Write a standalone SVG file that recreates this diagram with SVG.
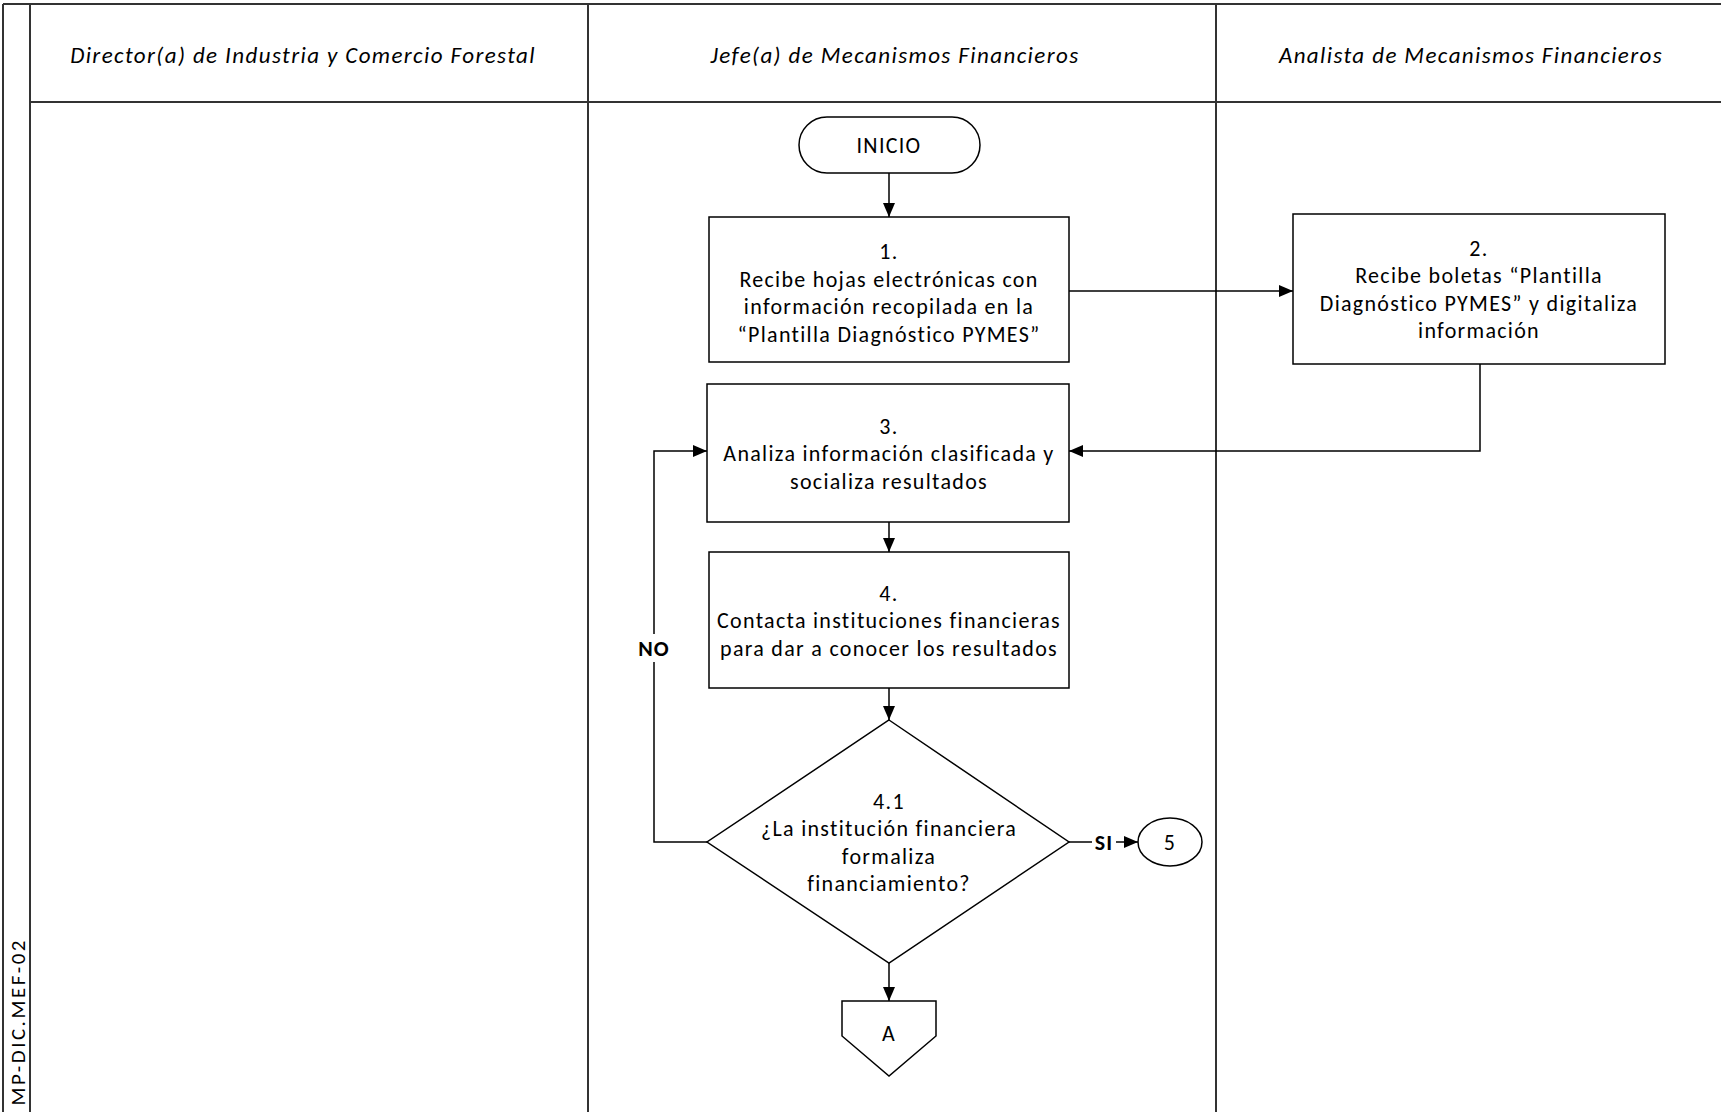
<svg xmlns="http://www.w3.org/2000/svg" width="1721" height="1112" viewBox="0 0 1721 1112">
<style>
text{font-family:Carlito,Lato,"Liberation Sans",sans-serif;font-size:22px;letter-spacing:1.3px;fill:#000;text-anchor:middle}
.hd{font-style:italic;font-size:23px;letter-spacing:1.4px}
.lane{stroke:#333;stroke-width:2;fill:none}
.shape{fill:#fff;stroke:#000;stroke-width:1.5}
.conn{fill:none;stroke:#000;stroke-width:1.5}
.lbl{font-weight:bold;letter-spacing:1px}
</style>
<defs>
<marker id="ah" markerWidth="14" markerHeight="12" refX="14" refY="6" orient="auto" markerUnits="userSpaceOnUse"><path d="M0,0 L14,6 L0,12 z" fill="#000"/></marker>
</defs>
<rect width="1721" height="1112" fill="#fff"/>
<g id="frame">
<path class="lane" d="M3,4 H1721 M3,4 V1112 M30,4 V1112 M30,102 H1721 M588,4 V1112 M1216,4 V1112"/>
<text class="hd" x="303" y="63">Director(a) de Industria y Comercio Forestal</text>
<text class="hd" x="895" y="63">Jefe(a) de Mecanismos Financieros</text>
<text class="hd" x="1471" y="63">Analista de Mecanismos Financieros</text>
<text transform="translate(25,938) rotate(-90)" style="text-anchor:end;font-size:21px;letter-spacing:2.5px">MP-DIC.MEF-02</text>
</g>
<g id="connectors">
<path class="conn" d="M889,173 V217" marker-end="url(#ah)"/>
<path class="conn" d="M1069,291 H1293" marker-end="url(#ah)"/>
<path class="conn" d="M1480,364 V451 H1069" marker-end="url(#ah)"/>
<path class="conn" d="M889,522 V552" marker-end="url(#ah)"/>
<path class="conn" d="M889,688 V720" marker-end="url(#ah)"/>
<path class="conn" d="M707,842 H654 V451 H707" marker-end="url(#ah)"/>
<path class="conn" d="M1069,842 H1138" marker-end="url(#ah)"/>
<path class="conn" d="M889,963 V1001" marker-end="url(#ah)"/>
<rect x="634" y="634" width="40" height="28" fill="#fff"/>
<text class="lbl" x="654" y="656">NO</text>
<rect x="1092" y="830" width="24" height="24" fill="#fff"/>
<text class="lbl" x="1104" y="850">SI</text>
</g>
<g id="inicio">
<rect class="shape" x="799" y="117" width="181" height="56" rx="28"/>
<text x="889" y="153">INICIO</text>
</g>
<g id="step1">
<rect class="shape" x="709" y="217" width="360" height="145"/>
<text x="889" y="259">1.</text>
<text x="889" y="287">Recibe hojas electrónicas con</text>
<text x="889" y="314">información recopilada en la</text>
<text x="889" y="342">“Plantilla Diagnóstico PYMES”</text>
</g>
<g id="step2">
<rect class="shape" x="1293" y="214" width="372" height="150"/>
<text x="1479" y="256">2.</text>
<text x="1479" y="283">Recibe boletas “Plantilla</text>
<text x="1479" y="311">Diagnóstico PYMES” y digitaliza</text>
<text x="1479" y="338">información</text>
</g>
<g id="step3">
<rect class="shape" x="707" y="384" width="362" height="138"/>
<text x="889" y="434">3.</text>
<text x="889" y="461">Analiza información clasificada y</text>
<text x="889" y="489">socializa resultados</text>
</g>
<g id="step4">
<rect class="shape" x="709" y="552" width="360" height="136"/>
<text x="889" y="601">4.</text>
<text x="889" y="628">Contacta instituciones financieras</text>
<text x="889" y="656">para dar a conocer los resultados</text>
</g>
<g id="decision41">
<polygon class="shape" points="889,720 1069,842 889,963 707,842"/>
<text x="889" y="809">4.1</text>
<text x="889" y="836">¿La institución financiera</text>
<text x="889" y="864">formaliza</text>
<text x="889" y="891">financiamiento?</text>
</g>
<g id="conn5">
<ellipse class="shape" cx="1170" cy="842" rx="32" ry="24"/>
<text x="1170" y="850">5</text>
</g>
<g id="offpageA">
<polygon class="shape" points="842,1001 936,1001 936,1036 889,1076 842,1036"/>
<text x="889" y="1041">A</text>
</g>
</svg>
